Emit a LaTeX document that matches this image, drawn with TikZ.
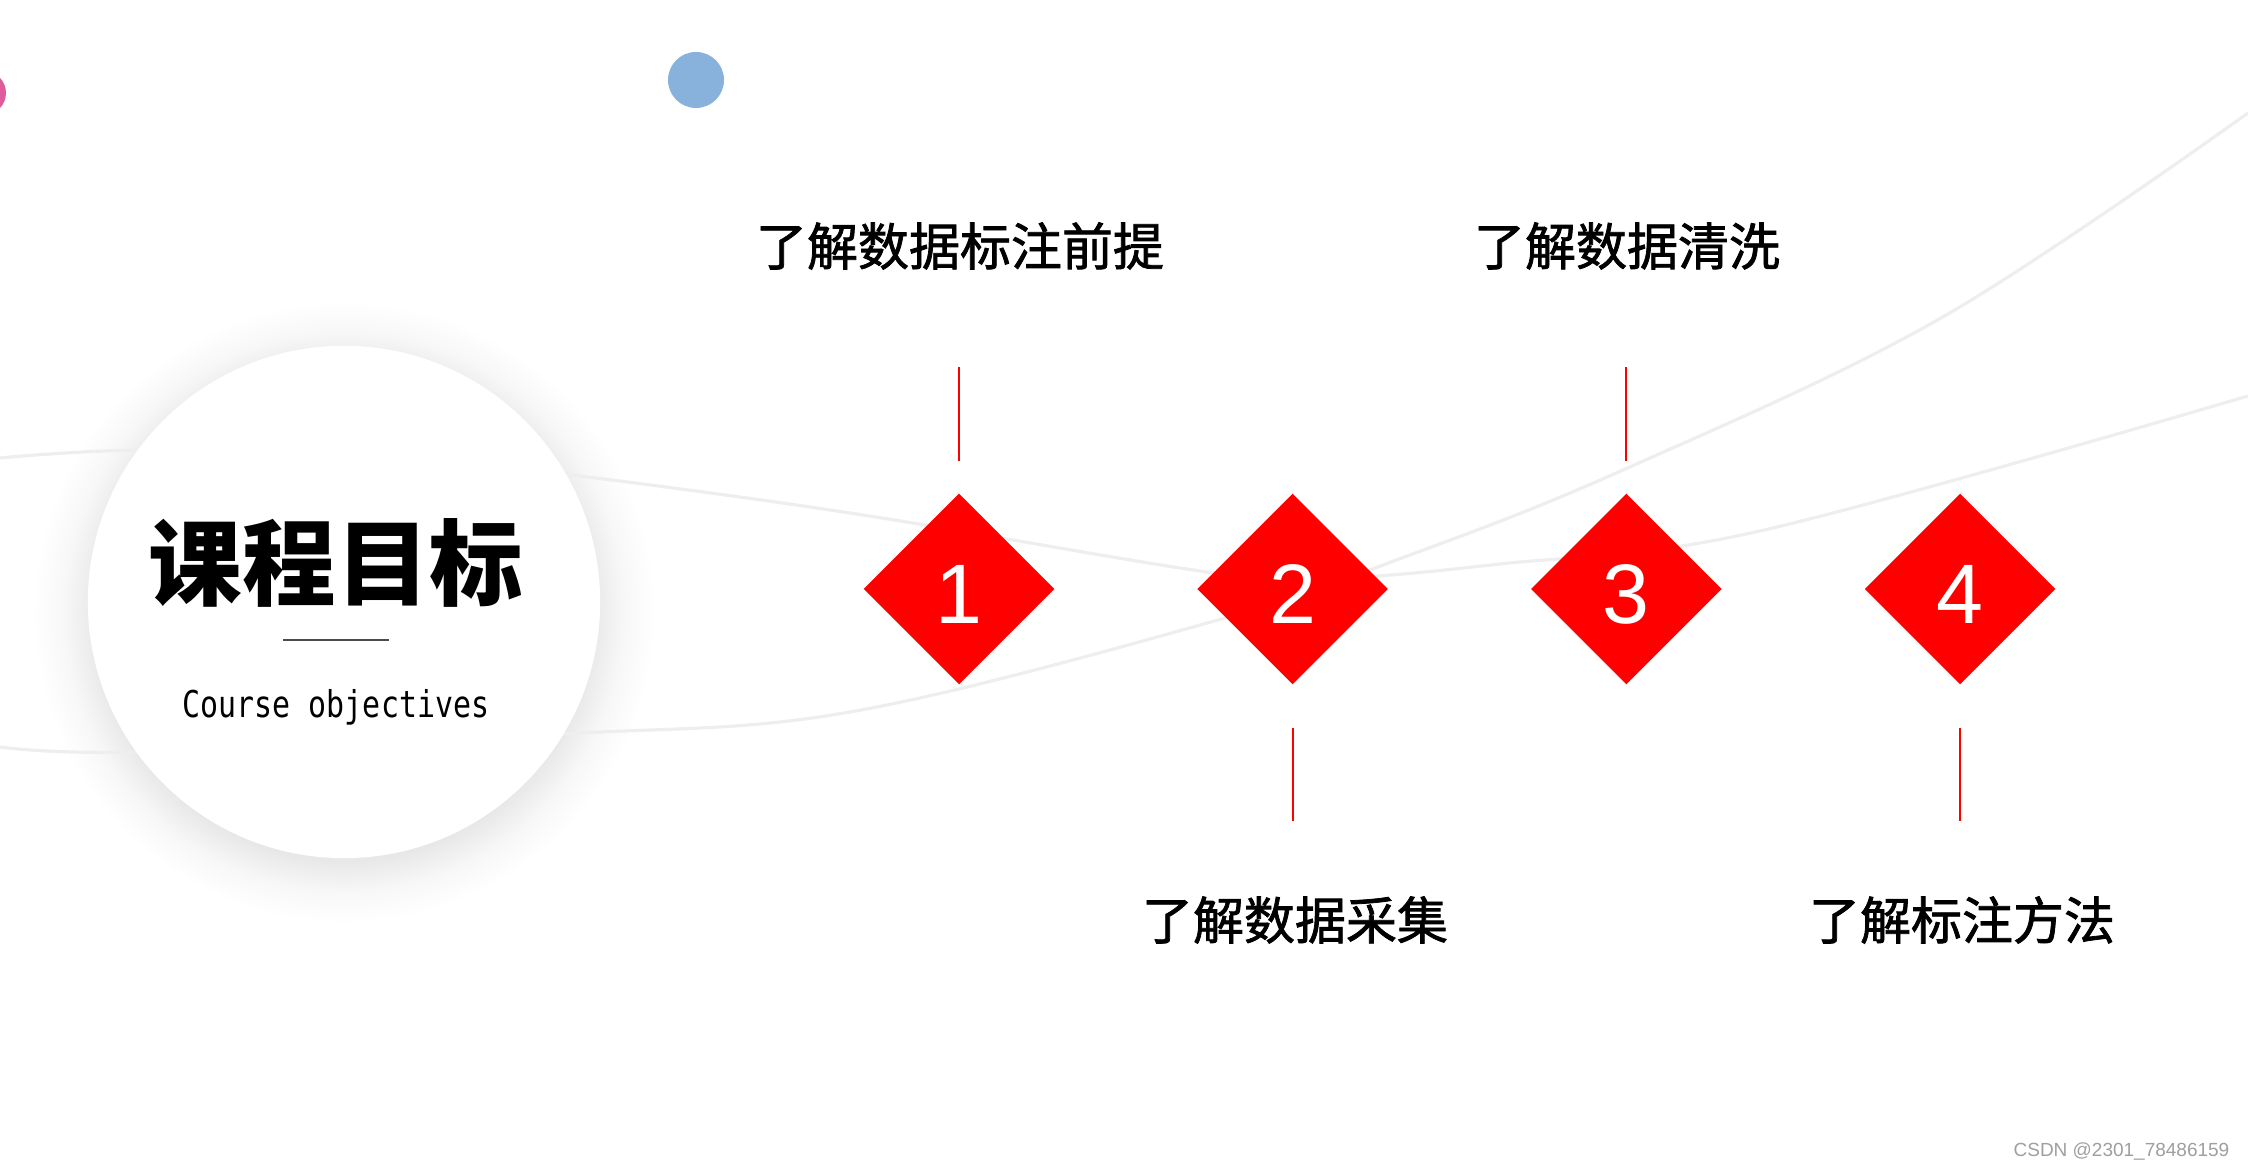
\documentclass[tikz,border=0pt]{standalone}
\usepackage{fontspec}
\setmainfont{Liberation Sans}
\newfontfamily\cjk{Noto Sans CJK SC}
\newfontfamily\cjkmid[FakeBold=1.5]{Noto Sans CJK SC}
\newfontfamily\monofont[FakeStretch=0.81]{DejaVu Sans Mono}
\usetikzlibrary{shapes.geometric,positioning}
\pgfdeclareradialshading{halo}{\pgfpoint{0bp}{0bp}}{color(0bp)=(black!9); color(20bp)=(black!9); color(22.5bp)=(black!3); color(25bp)=(white); color(50bp)=(white)}

\begin{document}
\begin{tikzpicture}[x=0.01cm, y=-0.01cm,
  wave/.style={line width=0.9pt, gray!13},
  stepdia/.style={diamond, fill=red, minimum width=1.91cm, minimum height=1.91cm,
    inner sep=0pt, text=white, text height=0.69cm, text depth=0pt,
    font=\fontsize{24}{24}\selectfont},
  goal/.style={font=\cjkmid\fontsize{14.5}{17}\selectfont, inner sep=0pt},
  tick/.style={red, line width=0.6pt}]

\fill[white] (0,0) rectangle (2248,1168);
\useasboundingbox (0,0) rectangle (2248,1168);
\clip (0,0) rectangle (2248,1168);

% soft shadow under the hub
\shade[shading=halo] (344,612) circle (3.11cm);

% background waves
\draw[wave] plot[smooth, tension=0.6] coordinates {(0,458) (150,450) (400,458) (563,474) (850,513) (1221,574) (1340,578) (1500,564) (1760,531) (2248,396)};
\draw[wave] plot[smooth, tension=0.6] coordinates {(0,747) (140,752) (560,734) (850,712) (1218,620) (1410,555) (1623,470) (1941,318) (2248,113)};

% dots
\fill[color={rgb,255:red,136;green,178;blue,220}] (696,80) circle (0.28cm);
\fill[color={rgb,255:red,222;green,92;blue,156}] (-16,93) circle (0.22cm);

% hub
\node[circle, fill=white, minimum size=5.12cm, inner sep=0pt] (hub) at (344,602) {};
\node[font=\cjk\bfseries\fontsize{26.6}{30}\selectfont, inner sep=0pt] (title) at (336,563) {课程目标};
\draw[gray!60!black, line width=0.5pt] (283,640) -- (389,640);
\node[font=\monofont\fontsize{10.5}{12}\selectfont, anchor=base, inner sep=0pt] (sub) at (336,718) {Course objectives};

% steps
\node[stepdia] (d1) at (959,589) {1};
\node[stepdia] (d2) at (1292.7,589) {2};
\node[stepdia] (d3) at (1626.4,589) {3};
\node[stepdia] (d4) at (1960.1,589) {4};

\node[goal] (t1) at (960,246) {了解数据标注前提};
\node[goal] (t2) at (1295,920) {了解数据采集};
\node[goal] (t3) at (1627,246) {了解数据清洗};
\node[goal] (t4) at (1962,920) {了解标注方法};

\draw[tick] (d1.north) ++(0,-32) -- ++(0,-94);
\draw[tick] (d3.north) ++(0,-32) -- ++(0,-94);
\draw[tick] (d2.south) ++(0,43) -- ++(0,93);
\draw[tick] (d4.south) ++(0,43) -- ++(0,93);

\node[font=\fontsize{5.4}{7}\selectfont, text=gray!75, anchor=base east, inner sep=0pt] (mark) at (2230,1157) {CSDN @2301\_78486159};

\end{tikzpicture}
\end{document}
